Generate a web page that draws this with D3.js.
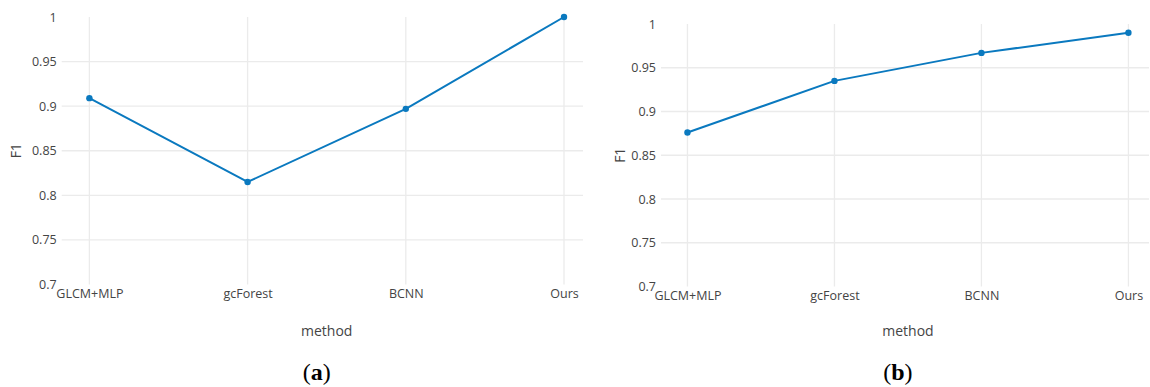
<!DOCTYPE html>
<html>
<head>
<meta charset="utf-8">
<script src="https://cdn.jsdelivr.net/npm/d3@7"></script>
<style>
  html, body { margin: 0; padding: 0; background: #fff; }
  svg { display: block; }
  text { font-family: "Open Sans", "Noto Sans", sans-serif; }
</style>
</head>
<body>
<svg id="chart" width="1150" height="387"></svg>
<script>
// F1 scores per method for the two experiments
const methods = ["GLCM+MLP", "gcForest", "BCNN", "Ours"];
const f1A = [0.909, 0.815, 0.897, 1.0];
const f1B = [0.876, 0.935, 0.967, 0.990];
const yTicks = [0.7, 0.75, 0.8, 0.85, 0.9, 0.95, 1];
const yTickLabels = ["0.7", "0.75", "0.8", "0.85", "0.9", "0.95", "1"];
const captions = ["(a)", "(b)"];

const lineColor = "#0a79bf";
const gridColor = "#ebebeb";
const textColor = "#444";

const svg = d3.select("#chart");

const panels = [
  { values: f1A, caption: captions[0], left: 61.7, right: 583, top: 17, bottom: 284.5,
    xDomain: [-0.175, 3.12], yTitleX: 16 },
  { values: f1B, caption: captions[1], left: 661, right: 1149, top: 24, bottom: 286.5,
    xDomain: [-0.18, 3.14], yTitleX: 620 }
];

panels.forEach(p => {
  const g = svg.append("g");
  const x = d3.scaleLinear().domain(p.xDomain).range([p.left, p.right]);
  const y = d3.scaleLinear().domain([0.7, 1]).range([p.bottom, p.top]);
  const idx = methods.map((_, i) => i);

  // horizontal grid (interior ticks only)
  g.append("g").selectAll("line")
    .data(yTicks.filter(t => t > 0.7 && t < 1))
    .join("line")
    .attr("x1", p.left).attr("x2", p.right)
    .attr("y1", d => y(d)).attr("y2", d => y(d))
    .attr("stroke", gridColor).attr("stroke-width", 1.3);

  // vertical grid at each category
  g.append("g").selectAll("line")
    .data(idx)
    .join("line")
    .attr("x1", d => x(d)).attr("x2", d => x(d))
    .attr("y1", y(1)).attr("y2", y(0.7))
    .attr("stroke", gridColor).attr("stroke-width", 1.3);

  // y axis labels
  const yAxis = d3.axisLeft(y)
    .tickValues(yTicks)
    .tickFormat((d, i) => yTickLabels[i])
    .tickSize(0).tickPadding(5);
  const ya = g.append("g").attr("transform", `translate(${p.left},0)`).call(yAxis);
  ya.select(".domain").remove();
  ya.selectAll("text").attr("fill", textColor).style("font-size", "12.5px")
    .style("font-family", "'Open Sans', sans-serif");

  // x axis labels
  const xAxis = d3.axisBottom(x)
    .tickValues(idx)
    .tickFormat(i => methods[i])
    .tickSize(0).tickPadding(5);
  const xa = g.append("g").attr("transform", `translate(0,${p.bottom})`).call(xAxis);
  xa.select(".domain").remove();
  xa.selectAll("text").attr("fill", textColor).style("font-size", "12.5px")
    .style("font-family", "'Open Sans', sans-serif");

  // series line
  const line = d3.line().x((d, i) => x(i)).y(d => y(d));
  g.append("path")
    .datum(p.values)
    .attr("d", line)
    .attr("fill", "none")
    .attr("stroke", lineColor)
    .attr("stroke-width", 2)
    .attr("stroke-linejoin", "round");

  g.append("g").selectAll("circle")
    .data(p.values)
    .join("circle")
    .attr("cx", (d, i) => x(i)).attr("cy", d => y(d))
    .attr("r", 3.2)
    .attr("fill", lineColor);

  // axis titles
  const cx = (x(0) + x(3)) / 2;
  g.append("text")
    .attr("x", cx).attr("y", 336)
    .attr("text-anchor", "middle")
    .attr("fill", textColor)
    .style("font-size", "14px")
    .text("method");

  g.append("text")
    .attr("transform", `translate(${p.yTitleX + 5},${(p.top + p.bottom) / 2}) rotate(-90)`)
    .attr("text-anchor", "middle")
    .attr("fill", textColor)
    .style("font-size", "14px")
    .text("F1");

  // panel caption, bold letter in parentheses
  const cap = g.append("text")
    .attr("x", cx - 10).attr("y", 380)
    .attr("text-anchor", "middle")
    .attr("fill", "#000")
    .style("font-family", "'Liberation Serif', 'DejaVu Serif', serif")
    .style("font-size", "24px");
  cap.append("tspan").text("(");
  cap.append("tspan").style("font-weight", "bold").text(p.caption.slice(1, -1));
  cap.append("tspan").text(")");
});
</script>
</body>
</html>
